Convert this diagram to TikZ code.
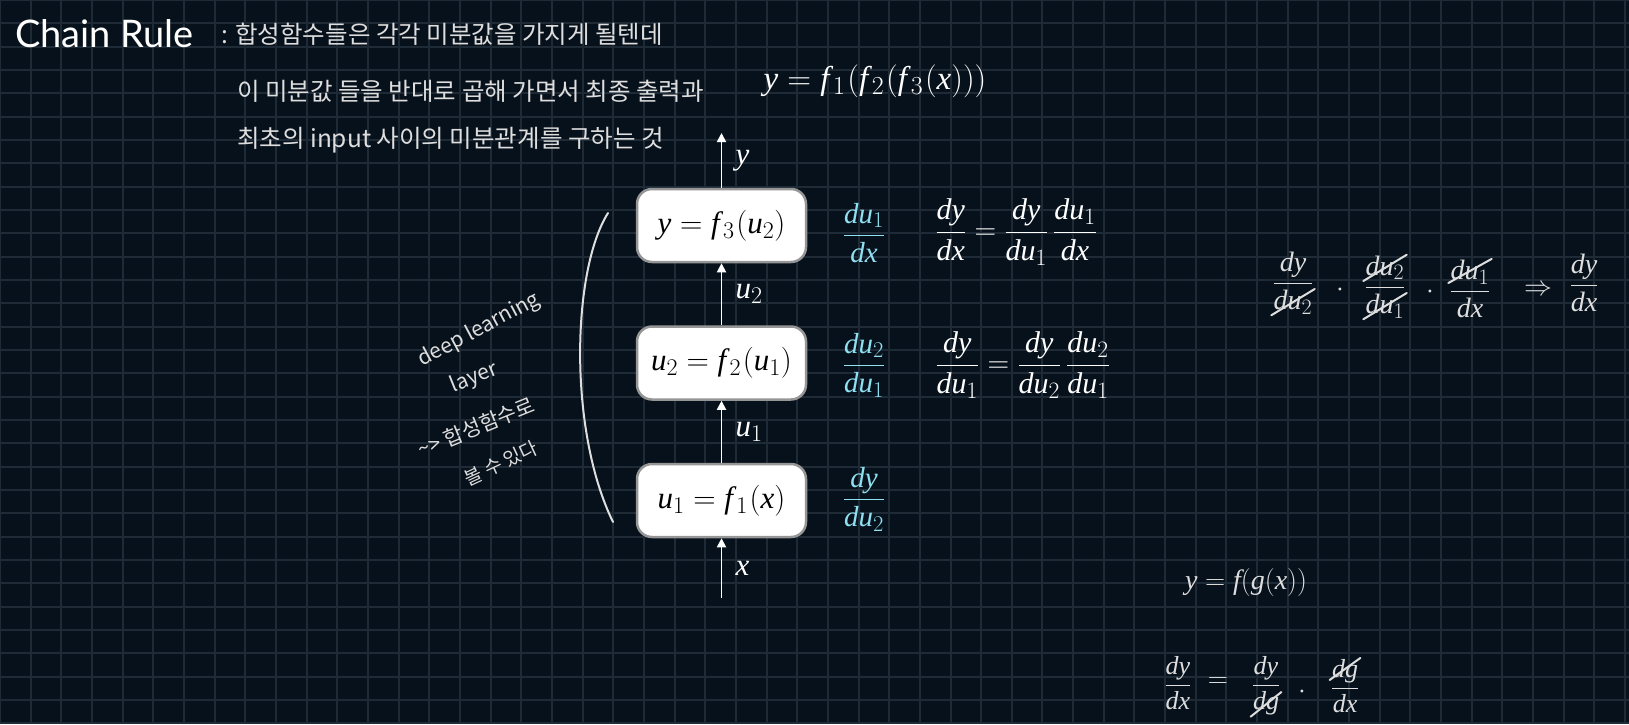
\RequirePackage{fix-cm}
\documentclass[tikz,border=0pt]{standalone}
\usepackage{amsmath}
\usepackage{fontspec}
\setmainfont{Lato}
\newfontfamily\kr{Noto Sans CJK KR}
\newfontfamily\mathserif{Liberation Serif}[NFSSFamily=libserif]
\DeclareSymbolFont{letters}{TU}{libserif}{m}{it}
\DeclareSymbolFont{operators}{TU}{libserif}{m}{n}
\DeclareMathSizes{33}{33}{26}{19}
\DeclareMathSizes{31}{31}{24}{18}
\DeclareMathSizes{30}{30}{23.5}{17}
\DeclareMathSizes{29}{29}{22.5}{16}
\DeclareMathSizes{28}{28}{22}{16}
\DeclareMathSizes{27}{27}{21}{15}
\newcommand{\ff}[1]{f\mkern2mu_{#1}\mkern1mu}
\usetikzlibrary{arrows.meta,positioning}
\definecolor{cBoard}{RGB}{7,17,27}
\definecolor{cGrid}{RGB}{30,42,54}
\definecolor{cChalk}{RGB}{222,222,222}
\definecolor{cCyan}{RGB}{143,224,240}
\definecolor{cEdge}{RGB}{150,150,150}
\tikzset{
  gridline/.style={cGrid, line width=2pt},
  layerbox/.style={draw=cEdge, line width=2.5pt, fill=white, rounded corners=15pt,
                   minimum width=169pt, minimum height=73pt, text=black,
                   font=\fontsize{31}{37}\selectfont},
  arr/.style={-{Triangle[length=9pt,width=9pt]}, line width=1.8pt, white},
  lbl/.style={text=white, font=\fontsize{31}{37}\selectfont},
  eqn/.style={text=white, font=\fontsize{30}{36}\selectfont},
  dcyan/.style={text=cCyan, font=\fontsize{29}{35}\selectfont},
  chalk/.style={text=cChalk, font=\fontsize{28}{32}\selectfont, inner sep=1pt},
  note/.style={text=cChalk, font=\kr\fontsize{24.5}{28}\selectfont, inner sep=0pt},
  side/.style={text=cChalk, font=\kr\fontsize{21}{24}\selectfont, inner sep=0pt},
  hand/.style={cChalk, line width=2pt, line cap=round},
  title/.style={text=white, font=\fontsize{38}{44}\selectfont, inner sep=0pt},
}

\begin{document}
\begin{tikzpicture}[x=1pt, y=-1pt]
  \useasboundingbox (0,0) rectangle (1629,724);
  % board
  \fill[cBoard] (0,0) rectangle (1629,724);
  \foreach \k in {0,...,53}
    \draw[gridline] ({0.04+30.66*\k},0) -- ++(0,724);
  \foreach \k in {0,...,31}
    \draw[gridline] (0,{23.33*\k}) -- ++(1629,0);

  % title and notes
  \node[title, anchor=base west] (title) at (15,47) {Chain Rule};
  \node[note, anchor=west] (line1) at (221,34) {: 합성함수들은 각각 미분값을 가지게 될텐데};
  \node[note, anchor=west] (line2) at (237,91.5) {이 미분값 들을 반대로 곱해 가면서 최종 출력과};
  \node[note, anchor=west] (line3) at (237,140) {최초의 input 사이의 미분관계를 구하는 것};
  \node[eqn, font=\fontsize{33}{39}\selectfont] (yfun) at (875,81) {$y = \ff1(\ff2(\ff3(x)))$};

  % layers
  \node[layerbox] (box1) at (721.5,500.5) {$u_1 = \ff1(x)$};
  \node[layerbox, above=62pt of box1] (box2) {$u_2 = \ff2(u_1)$};
  \node[layerbox, above=62pt of box2] (box3) {$y = \ff3(u_2)$};
  \coordinate (xin) at (721.5,598);
  \coordinate (ytip) at (721.5,133);
  \draw[arr] (xin) -- node[lbl, right=10pt] {$x$} (box1.south);
  \draw[arr] (box1) -- node[lbl, right=10pt] {$u_1$} (box2);
  \draw[arr] (box2) -- node[lbl, right=10pt] {$u_2$} (box3);
  \draw[arr] (box3.north) -- node[lbl, right=10pt] {$y$} (ytip);

  % local derivatives
  \node[dcyan] (d3) at (864,233) {$\dfrac{du_1}{dx}$};
  \node[dcyan] (d2) at (864,365) {$\dfrac{du_2}{du_1}$};
  \node[dcyan] (d1) at (864,499) {$\dfrac{dy}{du_2}$};
  \node[eqn, anchor=west] (e1) at (932,232) {$\dfrac{dy}{dx} = \dfrac{dy}{du_1}\,\dfrac{du_1}{dx}$};
  \node[eqn, anchor=west] (e2) at (932,365) {$\dfrac{dy}{du_1} = \dfrac{dy}{du_2}\,\dfrac{du_2}{du_1}$};

  % side note
  \draw[hand] (608,213) .. controls (572,270) and (568,430) .. (613,522);
  \node[side, rotate=28] (deep) at (479,330) {deep learning};
  \node[side, rotate=22] (layer) at (474,378) {layer};
  \node[side, rotate=22] (comp) at (476,427) {\textasciitilde> 합성함수로};
  \node[side, rotate=25, font=\kr\fontsize{19}{22}\selectfont] (seen) at (501,463) {볼 수 있다};

  % chained product
  \node[chalk] (h1) at (1293,283) {$\dfrac{dy}{du_2}$};
  \node[chalk] (hdot1) at (1340,290) {$\cdot$};
  \node[chalk] (h2) at (1385,287) {$\dfrac{du_2}{du_1}$};
  \node[chalk] (hdot2) at (1430,292) {$\cdot$};
  \node[chalk] (h3) at (1470,289) {$\dfrac{du_1}{dx}$};
  \node[chalk] (himp) at (1538,290) {$\Rightarrow$};
  \node[chalk] (h4) at (1584,283) {$\dfrac{dy}{dx}$};
  \draw[hand] (h1.south west) -- ([yshift=-6pt]h1.east);
  \draw[hand] ([yshift=6pt]h2.west) -- (h2.north east);
  \draw[hand] (h2.south west) -- ([yshift=-6pt]h2.east);
  \draw[hand] ([yshift=6pt]h3.west) -- (h3.north east);

  % composite f(g(x))
  \node[chalk] (fg) at (1246,582) {$y = f(g(x))$};
  \node[chalk, font=\fontsize{26}{30}\selectfont] (g1) at (1178,683) {$\dfrac{dy}{dx}$};
  \node[chalk] (geq) at (1218,683) {$=$};
  \node[chalk, font=\fontsize{26}{30}\selectfont] (g2) at (1266,686) {$\dfrac{dy}{dg}$};
  \node[chalk] (gdot) at (1302,692) {$\cdot$};
  \node[chalk, font=\fontsize{26}{30}\selectfont] (g3) at (1345,686) {$\dfrac{dg}{dx}$};
  \draw[hand] (g2.south west) -- ([yshift=-6pt]g2.east);
  \draw[hand] ([yshift=6pt]g3.west) -- (g3.north east);
\end{tikzpicture}
\end{document}
